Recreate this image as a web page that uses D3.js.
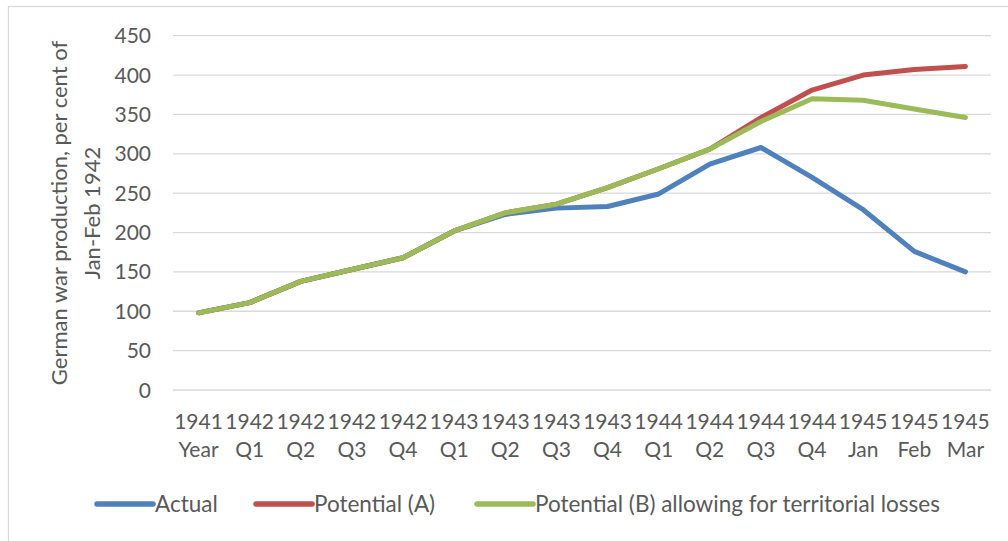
<!DOCTYPE html>
<html>
  <head>
    <title>German war production</title>
    <script src="https://d3js.org/d3.v7.min.js"></script>
    <style>
      body { margin: 0; background: #fff; }
      text { font-family: Lato, "Liberation Sans", sans-serif; fill: #595959; }
    </style>
  </head>
  <body>
  <script>

var categories = ["1941|Year", "1942|Q1", "1942|Q2", "1942|Q3", "1942|Q4",
                  "1943|Q1", "1943|Q2", "1943|Q3", "1943|Q4",
                  "1944|Q1", "1944|Q2", "1944|Q3", "1944|Q4",
                  "1945|Jan", "1945|Feb", "1945|Mar"];

var actual     = [98, 111, 138, 153, 168, 202, 223, 231, 233, 249, 287, 308, 270, 229, 176, 150];
var potentialA = [98, 111, 138, 153, 168, 202, 225, 236, 257, 281, 306, 346, 381, 400, 407, 411];
var potentialB = [98, 111, 138, 153, 168, 202, 225, 236, 257, 281, 306, 341, 370, 368, 357, 346];

var yTicks = [0, 50, 100, 150, 200, 250, 300, 350, 400, 450];

var seriesNames  = ["Actual", "Potential (A)", "Potential (B) allowing for territorial losses"];
var seriesColors = ["#4f81bd", "#c0504d", "#9bbb59"];

var width = 1008, height = 541;

var svg = d3.select("body").append("svg")
    .attr("width", width)
    .attr("height", height);

// chart frame (right and bottom edges fall outside the picture)
svg.append("rect")
    .attr("x", 8.5).attr("y", 6.5)
    .attr("width", 1010).attr("height", 560)
    .attr("fill", "none")
    .attr("stroke", "#d9d9d9")
    .attr("stroke-width", 1.3);

var x = d3.scalePoint()
    .domain(categories)
    .range([173, 991])
    .padding(0.5);

var y = d3.scaleLinear()
    .domain([0, 450])
    .range([390, 35.7]);

// gridlines
svg.append("g")
  .selectAll("line")
  .data(yTicks)
  .enter().append("line")
    .attr("x1", 173).attr("x2", 991)
    .attr("y1", function(d) { return y(d); })
    .attr("y2", function(d) { return y(d); })
    .attr("stroke", "#d9d9d9")
    .attr("stroke-width", 1.3);

// y tick labels
svg.append("g")
  .selectAll("text")
  .data(yTicks)
  .enter().append("text")
    .attr("x", 151)
    .attr("y", function(d) { return y(d) + 7.5; })
    .attr("text-anchor", "end")
    .style("font-size", "21px")
    .text(function(d) { return d; });

// x tick labels, two lines each
var xl = svg.append("g")
  .selectAll("text")
  .data(categories)
  .enter().append("text")
    .attr("text-anchor", "middle")
    .style("font-size", "21px");

xl.append("tspan")
    .attr("x", function(d) { return x(d); })
    .attr("y", 429)
    .text(function(d) { return d.split("|")[0]; });

xl.append("tspan")
    .attr("x", function(d) { return x(d); })
    .attr("y", 457)
    .text(function(d) { return d.split("|")[1]; });

// y axis title
var yt = svg.append("text")
    .attr("transform", "translate(0,213) rotate(-90)")
    .attr("text-anchor", "middle")
    .style("font-size", "22px");

yt.append("tspan").attr("x", 0).attr("y", 67).text("German war production, per cent of");
yt.append("tspan").attr("x", 0).attr("y", 100).text("Jan-Feb 1942");

// series lines
var line = d3.line()
    .x(function(d, i) { return x(categories[i]); })
    .y(function(d) { return y(d); });

svg.append("g")
  .selectAll("path")
  .data([actual, potentialA, potentialB])
  .enter().append("path")
    .attr("d", line)
    .attr("fill", "none")
    .attr("stroke", function(d, i) { return seriesColors[i]; })
    .attr("stroke-width", 5)
    .attr("stroke-linejoin", "round")
    .attr("stroke-linecap", "round");

// legend
var legendX = [97, 256, 477];

var lg = svg.append("g")
  .selectAll("g")
  .data(seriesNames)
  .enter().append("g")
    .attr("transform", function(d, i) { return "translate(" + legendX[i] + ",504)"; });

lg.append("line")
    .attr("x1", 0).attr("x2", 56)
    .attr("y1", 0).attr("y2", 0)
    .attr("stroke", function(d, i) { return seriesColors[i]; })
    .attr("stroke-width", 5.5)
    .attr("stroke-linecap", "round");

lg.append("text")
    .attr("x", 58)
    .attr("y", 7.5)
    .style("font-size", "22.5px")
    .text(function(d) { return d; });

  </script>
  </body>
</html>
